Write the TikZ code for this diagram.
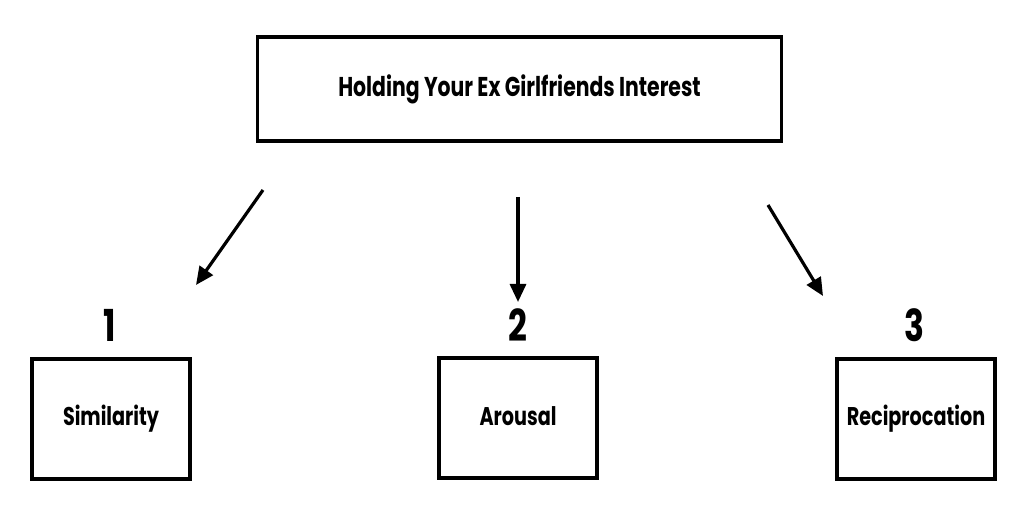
\documentclass[tikz,border=0pt]{standalone}
\usepackage{fontspec}
\setmainfont{Poppins}[FakeStretch=0.75]
\usetikzlibrary{arrows.meta,positioning}
\tikzset{
  topic/.style={draw, line width=1.6pt, minimum width=262pt, minimum height=52pt, font=\bfseries\fontsize{13.6}{15}\selectfont},
  branch/.style={draw, line width=1.6pt, minimum width=79pt, minimum height=60pt, font=\bfseries\fontsize{12.8}{14}\selectfont},
  rank/.style={font=\bfseries\fontsize{22}{24}\selectfont},
  pointer/.style={line width=1.6pt, -{Triangle[length=9pt,width=8pt]}}
}
\begin{document}
\begin{tikzpicture}[x=0.5pt,y=-0.5pt]
  \useasboundingbox (0,0) rectangle (1024,512);
  \path
  (519.5,89) node[topic] (interest) {Holding Your Ex Girlfriends Interest}
  (111,419) node[branch] (similarity) {Similarity}
  (518,418) node[branch] (arousal) {\raisebox{1.5pt}{Arousal}}
  (916,419) node[branch] (reciprocation) {Reciprocation}
  (110,325) node[rank] (one) {1}
  (518,325) node[rank] (two) {2}
  (914,325) node[rank] (three) {3}
  ;
  % arrow ends
  \coordinate (tailA) at (263,190);
  \coordinate (headA) at (196,285);
  \coordinate (tailB) at (518,197);
  \coordinate (headB) at (518,302);
  \coordinate (tailC) at (768,205);
  \coordinate (headC) at (823,296);
  \draw[pointer] (tailA) -- (headA);
  \draw[pointer] (tailB) -- (headB);
  \draw[pointer] (tailC) -- (headC);
\end{tikzpicture}
\end{document}
